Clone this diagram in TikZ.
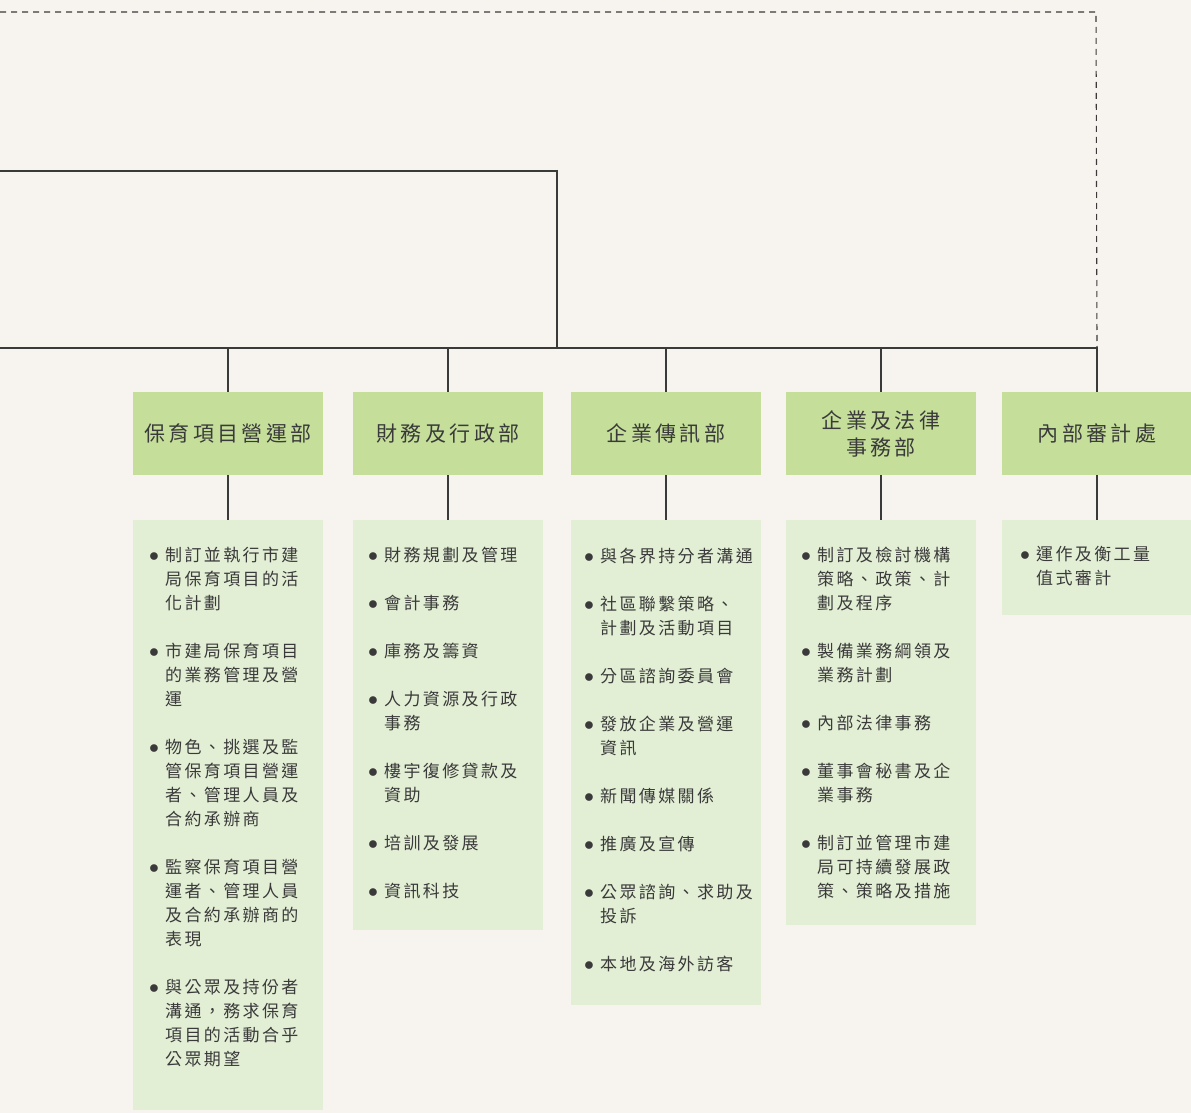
\documentclass[tikz,border=0pt]{standalone}
\usepackage{fontspec}
\newfontfamily\cjkbody[LetterSpace=14]{Noto Sans CJK TC}
\newfontfamily\cjkhead[LetterSpace=16]{Noto Sans CJK TC}
\definecolor{orgbg}{HTML}{F7F4F0}
\definecolor{orghead}{HTML}{C5DF9B}
\definecolor{orgbody}{HTML}{E3EFD5}
\definecolor{orgline}{HTML}{3A3A3A}
\definecolor{orgtext}{HTML}{3A3A3A}
\newcommand{\blt}{\scalebox{1.15}{$\bullet$}}

\begin{document}
\begin{tikzpicture}[x=1pt, y=-1pt,
  headbox/.style={fill=orghead, minimum width=190pt, minimum height=83pt,
    inner sep=0pt, align=center, text=orgtext,
    font=\cjkhead\fontsize{21}{27}\selectfont},
  bodybox/.style={fill=orgbody, minimum width=190pt, inner sep=0pt, anchor=north},
  itemlist/.style={anchor=base west, inner sep=0pt, text=orgtext,
    font=\cjkbody\fontsize{17}{24}\selectfont},
  link/.style={draw=orgline, line width=1.1pt},
  dotlink/.style={draw=orgline, line width=1.1pt, dash pattern=on 6pt off 5pt}]

\useasboundingbox (0,0) rectangle (1191,1113);
\fill[orgbg] (0,0) rectangle (1191,1113);

% === free ends off the left edge ===
\coordinate (topL) at (0,12);
\coordinate (topR) at (1096,12);
\coordinate (midL) at (0,171);
\coordinate (midR) at (557,171);
\coordinate (busL) at (0,348);
\coordinate (busM) at (557,348);

% === department headers ===
\node[headbox] (h1) at (228,433.5) {保育項目營運部};
\node[headbox] (h2) at (448,433.5) {財務及行政部};
\node[headbox] (h3) at (666,433.5) {企業傳訊部};
\node[headbox] (h4) at (881,433.5) {企業及法律\\事務部};
\node[headbox] (h5) at (1097,433.5) {內部審計處};

% === duty panels ===
\node[bodybox, minimum height=590pt] (b1) at (228,520) {};
\node[bodybox, minimum height=410pt] (b2) at (448,520) {};
\node[bodybox, minimum height=485pt] (b3) at (666,520) {};
\node[bodybox, minimum height=405pt] (b4) at (881,520) {};
\node[bodybox, minimum height=95pt] (b5) at (1097,520) {};

% === connectors ===
\coordinate (busR) at (h5.north |- busL);
\draw[dotlink] (topL) -- (topR) -- (busR);
\draw[link] (midL) -- (midR) -- (busM);
\draw[link] (busL) -- (busR) -- (h5.north);
\foreach \k in {1,2,3,4}
  \draw[link] (h\k.north |- busL) -- (h\k.north);
\foreach \k in {1,2,3,4,5}
  \draw[link] (h\k.south) -- (b\k.north);

% === duty lists ===
\node[itemlist] (l1) at (149,561.5) {%
  \begin{tabular}[t]{@{}l@{\hspace{6pt}}l@{}}
  \blt & 制訂並執行市建\\
       & 局保育項目的活\\
       & 化計劃\\[24pt]
  \blt & 市建局保育項目\\
       & 的業務管理及營\\
       & 運\\[24pt]
  \blt & 物色、挑選及監\\
       & 管保育項目營運\\
       & 者、管理人員及\\
       & 合約承辦商\\[24pt]
  \blt & 監察保育項目營\\
       & 運者、管理人員\\
       & 及合約承辦商的\\
       & 表現\\[24pt]
  \blt & 與公眾及持份者\\
       & 溝通，務求保育\\
       & 項目的活動合乎\\
       & 公眾期望
  \end{tabular}};

\node[itemlist] (l2) at (368,561.5) {%
  \begin{tabular}[t]{@{}l@{\hspace{6pt}}l@{}}
  \blt & 財務規劃及管理\\[24pt]
  \blt & 會計事務\\[24pt]
  \blt & 庫務及籌資\\[24pt]
  \blt & 人力資源及行政\\
       & 事務\\[24pt]
  \blt & 樓宇復修貸款及\\
       & 資助\\[24pt]
  \blt & 培訓及發展\\[24pt]
  \blt & 資訊科技
  \end{tabular}};

\node[itemlist] (l3) at (584,562.5) {%
  \begin{tabular}[t]{@{}l@{\hspace{6pt}}l@{}}
  \blt & 與各界持分者溝通\\[24pt]
  \blt & 社區聯繫策略、\\
       & 計劃及活動項目\\[24pt]
  \blt & 分區諮詢委員會\\[24pt]
  \blt & 發放企業及營運\\
       & 資訊\\[24pt]
  \blt & 新聞傳媒關係\\[24pt]
  \blt & 推廣及宣傳\\[24pt]
  \blt & 公眾諮詢、求助及\\
       & 投訴\\[24pt]
  \blt & 本地及海外訪客
  \end{tabular}};

\node[itemlist] (l4) at (801,561.5) {%
  \begin{tabular}[t]{@{}l@{\hspace{6pt}}l@{}}
  \blt & 制訂及檢討機構\\
       & 策略、政策、計\\
       & 劃及程序\\[24pt]
  \blt & 製備業務綱領及\\
       & 業務計劃\\[24pt]
  \blt & 內部法律事務\\[24pt]
  \blt & 董事會秘書及企\\
       & 業事務\\[24pt]
  \blt & 制訂並管理市建\\
       & 局可持續發展政\\
       & 策、策略及措施
  \end{tabular}};

\node[itemlist] (l5) at (1020,560.5) {%
  \begin{tabular}[t]{@{}l@{\hspace{6pt}}l@{}}
  \blt & 運作及衡工量\\
       & 值式審計
  \end{tabular}};

\end{tikzpicture}
\end{document}
